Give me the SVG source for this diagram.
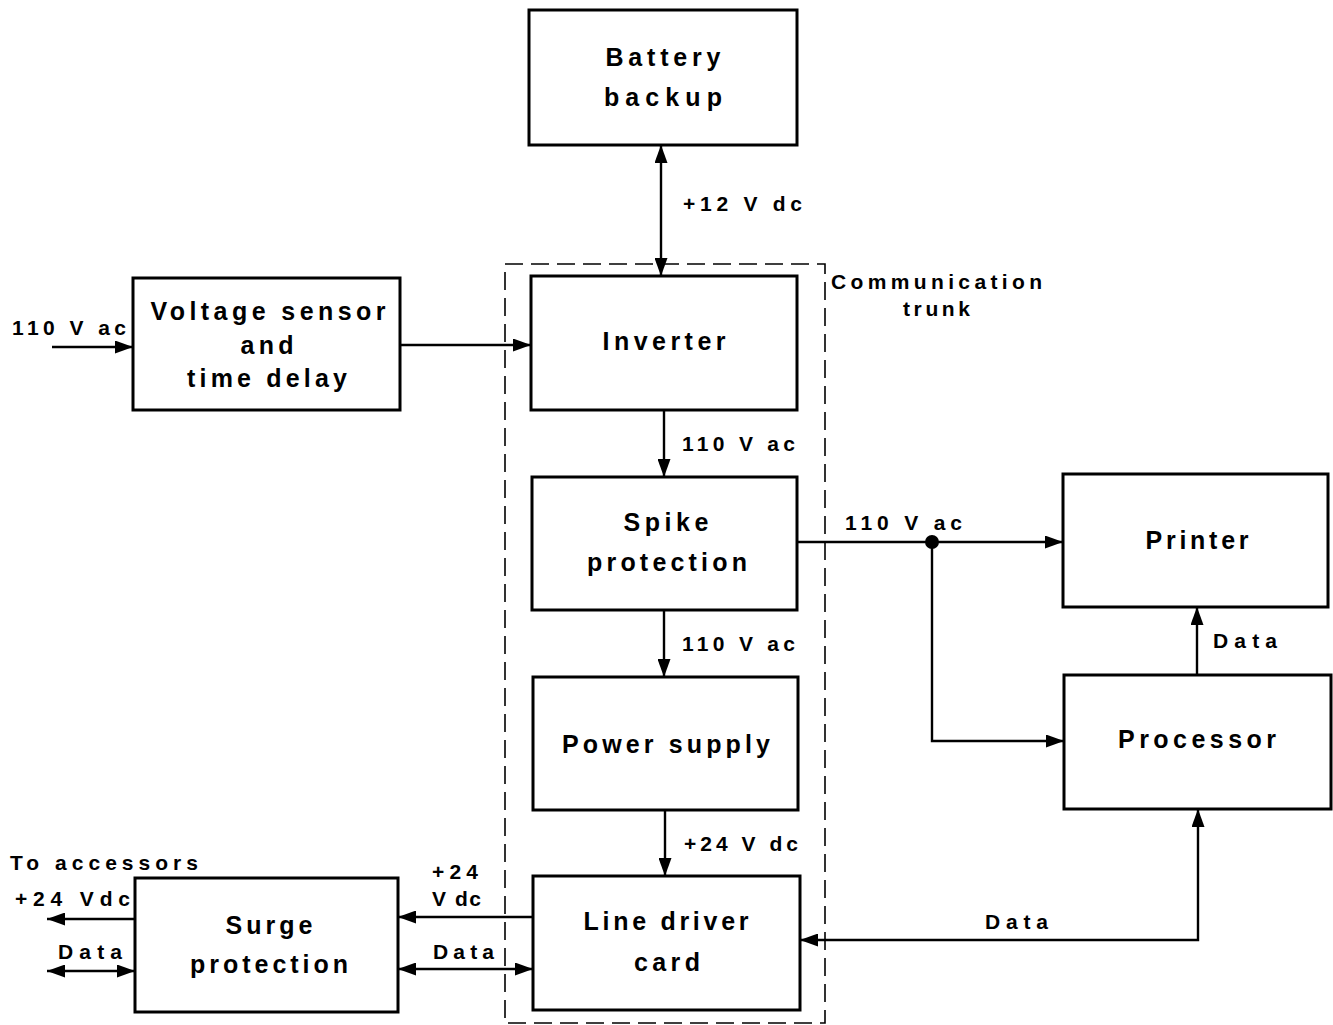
<svg xmlns="http://www.w3.org/2000/svg" width="1333" height="1025" viewBox="0 0 1333 1025">
<style>
.box{fill:#fff;stroke:#000;stroke-width:3}
.t{font-family:"Liberation Sans",Arial,sans-serif;font-weight:bold;font-size:25px;fill:#000;text-anchor:middle}
.l{font-family:"Liberation Sans",Arial,sans-serif;font-weight:bold;font-size:21px;fill:#000}
.c{fill:none;stroke:#000;stroke-width:2.4}
.dash{fill:none;stroke:#000;stroke-width:1.6;stroke-dasharray:18 8}
</style>
<defs>
<marker id="a" viewBox="0 0 18 13" markerWidth="18" markerHeight="13" refX="18" refY="6.5" orient="auto-start-reverse" markerUnits="userSpaceOnUse">
<path d="M0,0 L18,6.5 L0,13 z" fill="#000"/>
</marker>
</defs>
<rect width="1333" height="1025" fill="#fff"/>
<g id="trunk">
<rect class="dash" x="505" y="264" width="320" height="759"/>
<text class="l" x="831" y="289" textLength="211" lengthAdjust="spacing">Communication</text>
<text class="l" x="903" y="316" textLength="67" lengthAdjust="spacing">trunk</text>
</g>
<g id="battery">
<rect class="box" x="529" y="10" width="268" height="135"/>
<text class="t" x="663" y="66" textLength="115" lengthAdjust="spacing">Battery</text>
<text class="t" x="663" y="106" textLength="118" lengthAdjust="spacing">backup</text>
</g>
<g id="inverter">
<rect class="box" x="531" y="276" width="266" height="134"/>
<text class="t" x="664" y="350" textLength="123" lengthAdjust="spacing">Inverter</text>
</g>
<g id="spike">
<rect class="box" x="532" y="477" width="265" height="133"/>
<text class="t" x="666" y="531" textLength="85" lengthAdjust="spacing">Spike</text>
<text class="t" x="667" y="571" textLength="160" lengthAdjust="spacing">protection</text>
</g>
<g id="power">
<rect class="box" x="533" y="677" width="265" height="133"/>
<text class="t" x="666" y="753" textLength="208" lengthAdjust="spacing">Power supply</text>
</g>
<g id="linedriver">
<rect class="box" x="533" y="876" width="267" height="134"/>
<text class="t" x="666" y="930" textLength="165" lengthAdjust="spacing">Line driver</text>
<text class="t" x="667" y="971" textLength="66" lengthAdjust="spacing">card</text>
</g>
<g id="voltage">
<rect class="box" x="133" y="278" width="267" height="132"/>
<text class="t" x="268" y="320" textLength="235" lengthAdjust="spacing">Voltage sensor</text>
<text class="t" x="267" y="354" textLength="53" lengthAdjust="spacing">and</text>
<text class="t" x="267" y="387" textLength="160" lengthAdjust="spacing">time delay</text>
</g>
<g id="surge">
<rect class="box" x="135" y="878" width="263" height="134"/>
<text class="t" x="269" y="934" textLength="87" lengthAdjust="spacing">Surge</text>
<text class="t" x="269" y="973" textLength="158" lengthAdjust="spacing">protection</text>
</g>
<g id="printer">
<rect class="box" x="1063" y="474" width="265" height="133"/>
<text class="t" x="1197" y="549" textLength="103" lengthAdjust="spacing">Printer</text>
</g>
<g id="processor">
<rect class="box" x="1064" y="675" width="267" height="134"/>
<text class="t" x="1197" y="748" textLength="158" lengthAdjust="spacing">Processor</text>
</g>
<g id="connectors">
<line class="c" x1="661" y1="145" x2="661" y2="276" marker-start="url(#a)" marker-end="url(#a)"/>
<line class="c" x1="52" y1="347" x2="133" y2="347" marker-end="url(#a)"/>
<line class="c" x1="400" y1="345" x2="531" y2="345" marker-end="url(#a)"/>
<line class="c" x1="664" y1="410" x2="664" y2="477" marker-end="url(#a)"/>
<line class="c" x1="664" y1="610" x2="664" y2="677" marker-end="url(#a)"/>
<line class="c" x1="665" y1="810" x2="665" y2="876" marker-end="url(#a)"/>
<line class="c" x1="797" y1="542" x2="1063" y2="542" marker-end="url(#a)"/>
<path class="c" d="M932,542 V741 H1064" marker-end="url(#a)"/>
<circle cx="932" cy="542" r="7" fill="#000"/>
<line class="c" x1="1197" y1="675" x2="1197" y2="607" marker-end="url(#a)"/>
<path class="c" d="M1198,809 V940 H800" marker-start="url(#a)" marker-end="url(#a)"/>
<line class="c" x1="533" y1="917" x2="398" y2="917" marker-end="url(#a)"/>
<line class="c" x1="398" y1="969" x2="533" y2="969" marker-start="url(#a)" marker-end="url(#a)"/>
<line class="c" x1="135" y1="919" x2="47" y2="919" marker-end="url(#a)"/>
<line class="c" x1="47" y1="971" x2="135" y2="971" marker-start="url(#a)" marker-end="url(#a)"/>
</g>
<g id="labels">
<text class="l" x="683" y="211" textLength="119" lengthAdjust="spacing">+12  V dc</text>
<text class="l" x="682" y="451" textLength="113" lengthAdjust="spacing">110  V ac</text>
<text class="l" x="682" y="651" textLength="113" lengthAdjust="spacing">110  V ac</text>
<text class="l" x="684" y="851" textLength="114" lengthAdjust="spacing">+24  V dc</text>
<text class="l" x="12" y="335" textLength="114" lengthAdjust="spacing">110 V ac</text>
<text class="l" x="845" y="530" textLength="117" lengthAdjust="spacing">110   V ac</text>
<text class="l" x="1213" y="648" textLength="64" lengthAdjust="spacing">Data</text>
<text class="l" x="985" y="929" textLength="63" lengthAdjust="spacing">Data</text>
<text class="l" x="432" y="879" textLength="46" lengthAdjust="spacing">+24</text>
<text class="l" x="432" y="906" textLength="49" lengthAdjust="spacing">V dc</text>
<text class="l" x="433" y="959" textLength="61" lengthAdjust="spacing">Data</text>
<text class="l" x="10" y="870" textLength="188" lengthAdjust="spacing">To accessors</text>
<text class="l" x="15" y="906" textLength="115" lengthAdjust="spacing">+24 Vdc</text>
<text class="l" x="58" y="959" textLength="64" lengthAdjust="spacing">Data</text>
</g>
</svg>
